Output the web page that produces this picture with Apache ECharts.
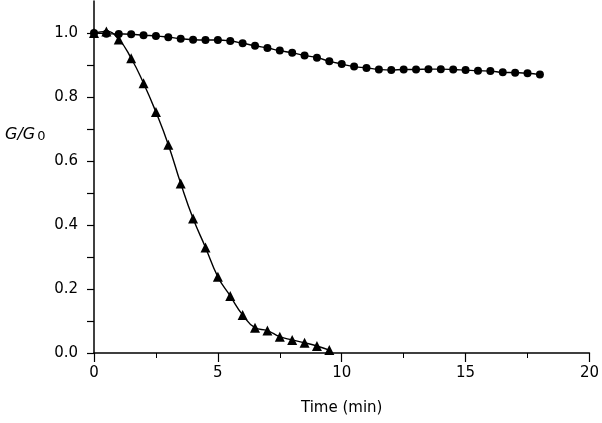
<!DOCTYPE html>
<html>
<head>
<meta charset="utf-8">
<script src="https://cdn.jsdelivr.net/npm/echarts@6/dist/echarts.min.js"></script>
<style>html,body{margin:0;padding:0;background:#fff;}#c{width:602px;height:423px;}</style>
</head>
<body>
<div id="c"></div>
<script>
var circleTime = [0,0.5,1,1.5,2,2.5,3,3.5,4,4.5,5,5.5,6,6.5,7,7.5,8,8.5,9,9.5,10,10.5,11,11.5,12,12.5,13,13.5,14,14.5,15,15.5,16,16.5,17,17.5,18];
var circleValues = [1.000,0.998,0.997,0.996,0.993,0.991,0.987,0.982,0.979,0.978,0.978,0.975,0.968,0.960,0.953,0.945,0.938,0.930,0.923,0.912,0.903,0.895,0.891,0.886,0.884,0.886,0.886,0.887,0.887,0.886,0.884,0.882,0.881,0.877,0.876,0.874,0.870];
var triTime = [0,0.5,1,1.5,2,2.5,3,3.5,4,4.5,5,5.5,6,6.5,7,7.5,8,8.5,9,9.5];
var triValues = [1.000,1.005,0.980,0.921,0.843,0.753,0.651,0.530,0.420,0.330,0.238,0.178,0.119,0.079,0.070,0.051,0.041,0.032,0.022,0.009];
var xTicks = [0,5,10,15,20];
var yTicks = [0.0,0.2,0.4,0.6,0.8,1.0];

function pairs(xs, ys){ return xs.map(function(x,i){ return [x, ys[i]]; }); }

var FONT = 'DejaVu Sans';
var chart = echarts.init(document.getElementById('c'));
chart.setOption({
  animation: false,
  backgroundColor: '#fff',
  grid: { left: 94, right: 12, top: 1, bottom: 70, containLabel: false },
  xAxis: {
    type: 'value', min: 0, max: 20, interval: 5,
    name: 'Time (min)', nameLocation: 'middle', nameGap: 48,
    nameTextStyle: { fontFamily: FONT, fontSize: 15, color: '#000' },
    axisLine: { show: true, lineStyle: { color: '#000', width: 1.5 } },
    axisTick: { show: true, length: 9, lineStyle: { color: '#000', width: 1.2 } },
    minorTick: { show: true, splitNumber: 2, length: 5, lineStyle: { color: '#000', width: 1 } },
    axisLabel: { margin: 13, fontFamily: FONT, fontSize: 15, color: '#000',
      formatter: function(v){ return xTicks.indexOf(v) >= 0 ? String(v) : ''; } },
    splitLine: { show: false }
  },
  yAxis: {
    type: 'value', min: 0, max: 1.1, interval: 0.1,
    axisLine: { show: true, lineStyle: { color: '#000', width: 1.5 } },
    axisTick: { show: true, length: 7, lineStyle: { color: '#000', width: 1.2 } },
    axisLabel: { margin: 16, fontFamily: FONT, fontSize: 15, color: '#000', showMaxLabel: false,
      formatter: function(v){
        for (var i = 0; i < yTicks.length; i++) { if (Math.abs(yTicks[i] - v) < 1e-6) return yTicks[i].toFixed(1); }
        return '';
      } },
    splitLine: { show: false }
  },
  graphic: [{
    type: 'text', left: 5, top: 127,
    style: {
      text: '{i|G/G}{s|0}',
      rich: {
        i: { fontFamily: FONT, fontStyle: 'italic', fontSize: 16, fill: '#000', verticalAlign: 'bottom' },
        s: { fontFamily: FONT, fontSize: 13, fill: '#000', padding: [0,0,0,2], verticalAlign: 'bottom' }
      }
    }
  }],
  series: [
    {
      type: 'line', data: pairs(circleTime, circleValues), smooth: true,
      symbol: 'circle', symbolSize: 8, showAllSymbol: true,
      lineStyle: { color: '#000', width: 1.4 }, itemStyle: { color: '#000' }
    },
    {
      type: 'line', data: pairs(triTime, triValues), smooth: true,
      symbol: 'triangle', symbolSize: 10, showAllSymbol: true,
      lineStyle: { color: '#000', width: 1.4 }, itemStyle: { color: '#000' }
    }
  ]
});
</script>
</body>
</html>
